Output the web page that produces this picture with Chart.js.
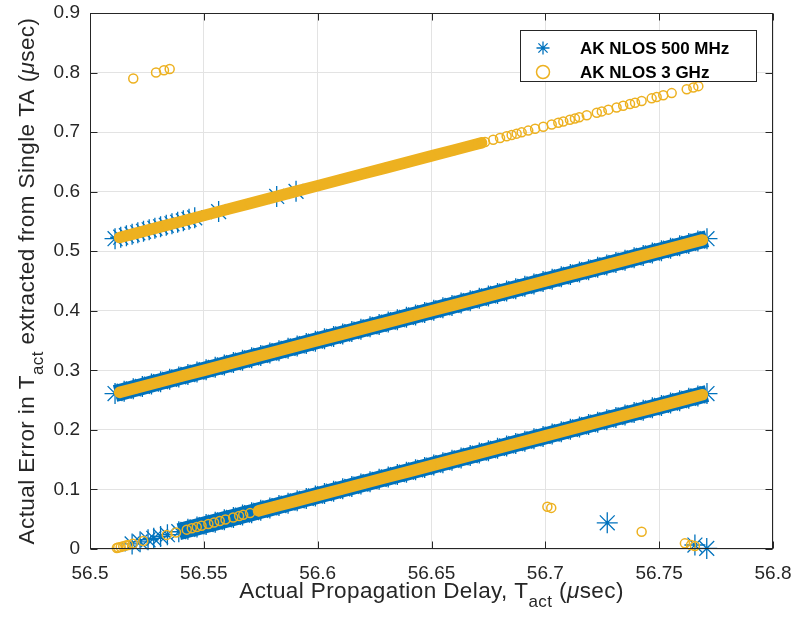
<!DOCTYPE html>
<html>
<head>
<meta charset="utf-8">
<title>AK NLOS - error vs propagation delay</title>
<script src="https://cdn.jsdelivr.net/npm/chart.js@4.4.1/dist/chart.umd.min.js"></script>
<style>
  html, body { margin: 0; padding: 0; background: #fff; }
  #wrap { width: 797px; height: 626px; }
</style>
</head>
<body>
<div id="wrap"><canvas id="errChart" width="797" height="626"></canvas></div>
<script>
// ====================== values ======================

const seriesNames = ['AK NLOS 500 MHz', 'AK NLOS 3 GHz'];

const xTicks = [56.5, 56.55, 56.6, 56.65, 56.7, 56.75, 56.8];
const xTickLabels = ['56.5', '56.55', '56.6', '56.65', '56.7', '56.75', '56.8'];
const yTicks = [0, 0.1, 0.2, 0.3, 0.4, 0.5, 0.6, 0.7, 0.8, 0.9];
const yTickLabels = ['0', '0.1', '0.2', '0.3', '0.4', '0.5', '0.6', '0.7', '0.8', '0.9'];

// 500 MHz (stars) - middle band
const starMidX = [56.511,56.515,56.519,56.523,56.527,56.531,56.535,56.539,56.543,56.547,56.551,56.555,56.559,56.563,56.567,56.571,56.575,56.579,56.583,56.587,56.591,56.595,56.599,56.603,56.607,56.611,56.615,56.619,56.623,56.627,56.631,56.635,56.639,56.643,56.647,56.651,56.655,56.659,56.663,56.667,56.671,56.675,56.679,56.683,56.687,56.691,56.695,56.699,56.703,56.707,56.711,56.715,56.719,56.723,56.727,56.731,56.735,56.739,56.743,56.747,56.751,56.755,56.759,56.763,56.767,56.771];
const starMidY = [0.261,0.265,0.269,0.273,0.277,0.281,0.285,0.289,0.293,0.297,0.301,0.305,0.309,0.313,0.317,0.321,0.325,0.329,0.333,0.337,0.341,0.345,0.349,0.353,0.357,0.361,0.365,0.369,0.373,0.377,0.381,0.385,0.389,0.393,0.397,0.401,0.405,0.409,0.413,0.417,0.421,0.425,0.429,0.433,0.437,0.441,0.445,0.449,0.453,0.457,0.461,0.465,0.469,0.473,0.477,0.481,0.485,0.489,0.493,0.497,0.501,0.505,0.509,0.513,0.517,0.521];
// 500 MHz - bottom band
const starLowX = [56.539,56.543,56.547,56.551,56.555,56.559,56.563,56.567,56.571,56.575,56.579,56.583,56.587,56.591,56.595,56.599,56.603,56.607,56.611,56.615,56.619,56.623,56.627,56.631,56.635,56.639,56.643,56.647,56.651,56.655,56.659,56.663,56.667,56.671,56.675,56.679,56.683,56.687,56.691,56.695,56.699,56.703,56.707,56.711,56.715,56.719,56.723,56.727,56.731,56.735,56.739,56.743,56.747,56.751,56.755,56.759,56.763,56.767,56.771];
const starLowY = [0.029,0.033,0.037,0.041,0.045,0.049,0.053,0.057,0.061,0.065,0.069,0.073,0.077,0.081,0.085,0.089,0.093,0.097,0.101,0.105,0.109,0.113,0.117,0.121,0.125,0.129,0.133,0.137,0.141,0.145,0.149,0.153,0.157,0.161,0.165,0.169,0.173,0.177,0.181,0.185,0.189,0.193,0.197,0.201,0.205,0.209,0.213,0.217,0.221,0.225,0.229,0.233,0.237,0.241,0.245,0.249,0.253,0.257,0.261];
// 500 MHz - top band (short, sparse)
const starTopX = [56.511,56.5135,56.516,56.5185,56.521,56.5235,56.526,56.5285,56.531,56.5335,56.536,56.5385,56.541,56.5435,56.546];
const starTopY = [0.521,0.5235,0.526,0.5285,0.531,0.5335,0.536,0.5385,0.541,0.5435,0.546,0.5485,0.551,0.5535,0.556];
// 500 MHz - isolated stars
const starLooseX = [56.5185,56.522,56.5255,56.528,56.531,56.534,56.5565,56.582,56.5905,56.7272,56.7657,56.7709];
const starLooseY = [0.0085,0.012,0.0155,0.018,0.021,0.024,0.5665,0.592,0.6005,0.044,0.0067,0.001];

// 3 GHz (circles) - dense parts of the bands
const ringMidX = [56.513,56.52,56.53,56.54,56.55,56.56,56.57,56.58,56.59,56.6,56.61,56.62,56.63,56.64,56.65,56.66,56.67,56.68,56.69,56.7,56.71,56.72,56.73,56.74,56.75,56.76,56.769];
const ringMidY = [0.263,0.27,0.28,0.29,0.3,0.31,0.32,0.33,0.34,0.35,0.36,0.37,0.38,0.39,0.4,0.41,0.42,0.43,0.44,0.45,0.46,0.47,0.48,0.49,0.5,0.51,0.519];
const ringLowX = [56.574,56.58,56.59,56.6,56.61,56.62,56.63,56.64,56.65,56.66,56.67,56.68,56.69,56.7,56.71,56.72,56.73,56.74,56.75,56.76,56.769];
const ringLowY = [0.064,0.07,0.08,0.09,0.1,0.11,0.12,0.13,0.14,0.15,0.16,0.17,0.18,0.19,0.2,0.21,0.22,0.23,0.24,0.25,0.259];
const ringTopX = [56.513,56.52,56.53,56.54,56.55,56.56,56.57,56.58,56.59,56.6,56.61,56.62,56.63,56.64,56.65,56.66,56.67,56.672];
const ringTopY = [0.523,0.53,0.54,0.55,0.56,0.57,0.58,0.59,0.6,0.61,0.62,0.63,0.64,0.65,0.66,0.67,0.68,0.682];
// 3 GHz - separate circles at the start of the bottom band
const ringChainLowX = [56.5118,56.5124,56.5135,56.5146,56.5157,56.5168,56.5188,56.5234,56.5337,56.5378,56.5425,56.5447,56.5469,56.549,56.552,56.5545,56.557,56.5595,56.5629,56.5655,56.5673,56.5703];
const ringChainLowY = [0.0018,0.0024,0.0035,0.0046,0.0057,0.0068,0.0088,0.0134,0.0237,0.0278,0.0325,0.0347,0.0369,0.039,0.042,0.0445,0.047,0.0495,0.0529,0.0555,0.0573,0.0603];
// 3 GHz - separate circles at the end of the top band
const ringChainTopX = [56.6735,56.6771,56.6801,56.683,56.6852,56.6874,56.6896,56.6925,56.6955,56.6991,56.7028,56.7057,56.7079,56.7108,56.713,56.7149,56.7182,56.7226,56.7248,56.7277,56.7313,56.7342,56.7372,56.7394,56.7423,56.7467,56.7489,56.7518,56.7555,56.7621,56.765,56.7672];
const ringChainTopY = [0.6835,0.6871,0.6901,0.693,0.6952,0.6974,0.6996,0.7025,0.7055,0.7091,0.7128,0.7157,0.7179,0.7208,0.723,0.7249,0.7282,0.7326,0.7348,0.7377,0.7413,0.7442,0.7472,0.7494,0.7523,0.7567,0.7589,0.7618,0.7655,0.7721,0.775,0.7772];
// 3 GHz - outliers
const ringOutX = [56.519,56.529,56.5325,56.535,56.7009,56.7026,56.7423,56.7613,56.764,56.7657];
const ringOutY = [0.790,0.800,0.804,0.806,0.071,0.069,0.029,0.0095,0.0067,0.005];

// ====================== styling ======================
const BLUE = '#0072BD';
const YELLOW = '#EDB120';
const INK = '#262626';
const FONT = "'Liberation Sans', Arial, Helvetica, sans-serif";

function pts(xs, ys) { return xs.map((x, i) => ({ x: x, y: ys[i] })); }

function stars(xs, ys, band) {
  return {
    label: seriesNames[0], data: pts(xs, ys), order: 2, clip: false,
    showLine: band, borderColor: BLUE, borderWidth: band ? 17 : 0, borderCapStyle: 'butt',
    pointStyle: 'star', pointRadius: 10.5, pointHoverRadius: 10.5,
    pointBorderColor: BLUE, pointBackgroundColor: BLUE, pointBorderWidth: 1.3
  };
}

function rings(xs, ys, band) {
  return {
    label: seriesNames[1], data: pts(xs, ys), order: 1, clip: false,
    showLine: band, borderColor: YELLOW, borderWidth: band ? 11.5 : 0, borderCapStyle: 'round',
    pointStyle: 'circle', pointRadius: 4.5, pointHoverRadius: 4.5,
    pointBorderColor: YELLOW, pointBackgroundColor: 'rgba(0,0,0,0)', pointBorderWidth: 1.5
  };
}

// text with a subscript and a Greek mu, drawn like MATLAB's TeX labels
function runFont(r, size) {
  const s = r.sub ? Math.round(size * 0.74) : size;
  return (r.it ? 'italic ' : '') + s + 'px ' + FONT;
}
function drawRuns(ctx, runs, size, cx, baseY) {
  ctx.letterSpacing = '0.4px';
  let total = 0;
  runs.forEach(r => { ctx.font = runFont(r, size); r.w = ctx.measureText(r.t).width; total += r.w; });
  let x = cx - total / 2;
  ctx.textAlign = 'left';
  ctx.textBaseline = 'alphabetic';
  runs.forEach(r => {
    ctx.font = runFont(r, size);
    ctx.fillText(r.t, x, baseY + (r.sub ? size * 0.42 : 0));
    x += r.w;
  });
  ctx.letterSpacing = '0px';
}

const xTitle = [{ t: 'Actual Propagation Delay, T' }, { t: 'act', sub: true }, { t: ' (' }, { t: 'μ', it: true }, { t: 'sec)' }];
const yTitle = [{ t: 'Actual Error in T' }, { t: 'act', sub: true }, { t: ' extracted from Single TA (' }, { t: 'μ', it: true }, { t: 'sec)' }];

const matlabFrame = {
  id: 'matlabFrame',
  afterDatasetsDraw(chart) {
    const { ctx, chartArea: a, scales: { x, y } } = chart;
    const L = Math.round(a.left) + 0.5, R = Math.round(a.right) - 0.5;
    const T = Math.round(a.top) + 0.5, B = Math.round(a.bottom) - 0.5;
    ctx.save();
    ctx.strokeStyle = INK;
    ctx.lineWidth = 1;
    ctx.strokeRect(L, T, R - L, B - T);
    ctx.beginPath();
    xTicks.forEach(v => {
      const px = Math.round(x.getPixelForValue(v)) + 0.5;
      ctx.moveTo(px, B); ctx.lineTo(px, B - 7);
      ctx.moveTo(px, T); ctx.lineTo(px, T + 7);
    });
    yTicks.forEach(v => {
      const py = Math.round(y.getPixelForValue(v)) + 0.5;
      ctx.moveTo(L, py); ctx.lineTo(L + 7, py);
      ctx.moveTo(R, py); ctx.lineTo(R - 7, py);
    });
    ctx.stroke();
    ctx.restore();
  },
  afterDraw(chart) {
    const { ctx, chartArea: a } = chart;
    ctx.save();

    // legend box, top right inside the axes
    ctx.fillStyle = '#fff';
    ctx.fillRect(520, 30, 236, 51);
    ctx.strokeStyle = INK;
    ctx.lineWidth = 1;
    ctx.strokeRect(520.5, 30.5, 236, 51);
    const keys = [
      { style: 'star', color: BLUE, fill: BLUE, y: 48, bw: 1.3 },
      { style: 'circle', color: YELLOW, fill: 'rgba(0,0,0,0)', y: 72, bw: 1.5 }
    ];
    keys.forEach((k, i) => {
      ctx.strokeStyle = k.color;
      ctx.fillStyle = k.fill;
      ctx.lineWidth = k.bw;
      Chart.helpers.drawPoint(ctx, { pointStyle: k.style, radius: 6.5, rotation: 0, borderWidth: k.bw }, 543, k.y);
      ctx.fillStyle = '#000';
      ctx.font = 'bold 17px ' + FONT;
      ctx.textAlign = 'left';
      ctx.textBaseline = 'middle';
      ctx.fillText(seriesNames[i], 580, k.y + 1);
    });

    // axis titles
    ctx.fillStyle = INK;
    drawRuns(ctx, xTitle, 22.5, (a.left + a.right) / 2, 598);
    ctx.translate(34, (a.top + a.bottom) / 2);
    ctx.rotate(-Math.PI / 2);
    drawRuns(ctx, yTitle, 22.5, 0, 0);
    ctx.restore();
  }
};

// ====================== chart ======================
let chartInstance = null;

function renderChart() {
  if (chartInstance) chartInstance.destroy();
  const canvas = document.getElementById('errChart');
  if (!canvas) return;

  chartInstance = new Chart(canvas, {
    type: 'scatter',
    data: {
      datasets: [
        stars(starMidX, starMidY, true),
        stars(starLowX, starLowY, true),
        stars(starTopX, starTopY, false),
        stars(starLooseX, starLooseY, false),
        rings(ringMidX, ringMidY, true),
        rings(ringLowX, ringLowY, true),
        rings(ringTopX, ringTopY, true),
        rings(ringChainLowX, ringChainLowY, false),
        rings(ringChainTopX, ringChainTopY, false),
        rings(ringOutX, ringOutY, false)
      ]
    },
    options: {
      responsive: false,
      animation: false,
      devicePixelRatio: 1,
      layout: { padding: { top: 13, right: 24, left: 0, bottom: 0 } },
      plugins: { legend: { display: false }, tooltip: { enabled: false } },
      elements: { line: { tension: 0 } },
      scales: {
        x: {
          type: 'linear', min: 56.5, max: 56.8,
          afterBuildTicks: s => { s.ticks = xTicks.map(v => ({ value: v })); },
          afterFit: s => { s.height = 77; s.paddingLeft = 0; s.paddingRight = 0; },
          ticks: {
            color: INK, font: { family: FONT, size: 19 }, padding: 13,
            maxRotation: 0, autoSkip: false,
            callback: (v, i) => xTickLabels[i]
          },
          grid: { color: '#e3e3e3', drawTicks: false },
          border: { display: false }
        },
        y: {
          type: 'linear', min: 0, max: 0.9,
          afterBuildTicks: s => { s.ticks = yTicks.map(v => ({ value: v })); },
          afterFit: s => { s.width = 90; s.paddingTop = 0; s.paddingBottom = 0; },
          ticks: {
            color: INK, font: { family: FONT, size: 19 }, padding: 10,
            autoSkip: false,
            callback: (v, i) => yTickLabels[i]
          },
          grid: { color: '#e3e3e3', drawTicks: false },
          border: { display: false }
        }
      }
    },
    plugins: [matlabFrame]
  });
}

document.addEventListener('DOMContentLoaded', renderChart);
</script>
</body>
</html>
